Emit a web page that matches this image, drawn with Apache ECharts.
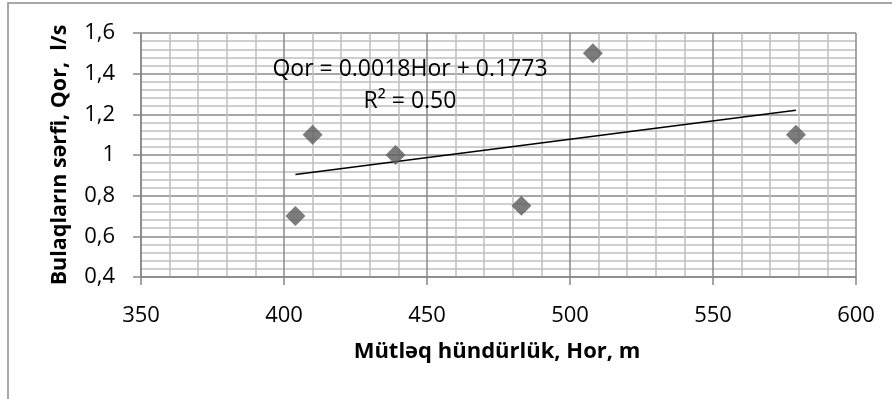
<!DOCTYPE html>
<html>
<head>
<meta charset="utf-8">
<script src="https://cdn.jsdelivr.net/npm/echarts@6/dist/echarts.min.js"></script>
<style>html,body{margin:0;padding:0;background:#fff}#c{width:892px;height:399px}</style>
</head>
<body>
<div id="c"></div>
<script>
var altitude = [404, 410, 439, 483, 508, 579];
var discharge = [0.7, 1.1, 1.0, 0.75, 1.5, 1.1];
var trendSlope = 0.0018;
var trendIntercept = 0.1773;
var yTickLabels = ['0,4', '0,6', '0,8', '1', '1,2', '1,4', '1,6'];
var xTickLabels = ['350', '400', '450', '500', '550', '600'];
var equationText = 'Qor = 0.0018Hor + 0.1773';
var r2Text = 'R\u00b2 = 0.50';
var xTitle = 'Mütləq hündürlük, Hor, m';
var yTitle = 'Bulaqların sərfi, Qor,  l/s';

var pts = altitude.map(function (x, i) { return [x, discharge[i]]; });
var xMin = Math.min.apply(null, altitude), xMax = Math.max.apply(null, altitude);
var trend = [[xMin, trendSlope * xMin + trendIntercept], [xMax, trendSlope * xMax + trendIntercept]];

var chart = echarts.init(document.getElementById('c'), null, {renderer: 'canvas'});
var FONT = 'Open Sans';
chart.setOption({
  animation: false,
  backgroundColor: '#fff',
  grid: {left: 141, right: 36, top: 33, bottom: 122},
  xAxis: {
    type: 'value', min: 350, max: 600, interval: 50,
    axisLine: {show: true, lineStyle: {color: '#868686', width: 1.5}},
    axisTick: {show: true, length: 8, lineStyle: {color: '#868686', width: 1.5}},
    axisLabel: {margin: 28, color: '#000', fontFamily: FONT, fontSize: 22,
      formatter: function (v) { return xTickLabels[Math.round((v - 350) / 50)]; }},
    splitLine: {show: true, lineStyle: {color: '#8a8a8a', width: 1.5}},
    minorTick: {show: false, splitNumber: 5},
    minorSplitLine: {show: true, lineStyle: {color: '#c0c0c0', width: 1.5}}
  },
  yAxis: {
    type: 'value', min: 0.4, max: 1.6, interval: 0.2,
    axisLine: {show: true, lineStyle: {color: '#868686', width: 1.5}},
    axisTick: {show: true, length: 8, lineStyle: {color: '#868686', width: 1.5}},
    axisLabel: {margin: 26, color: '#000', fontFamily: FONT, fontSize: 22,
      formatter: function (v) { return yTickLabels[Math.round((v - 0.4) / 0.2)]; }},
    splitLine: {show: true, lineStyle: {color: '#8a8a8a', width: 1.5}},
    minorTick: {show: false, splitNumber: 5},
    minorSplitLine: {show: true, lineStyle: {color: '#c0c0c0', width: 1.5}}
  },
  series: [
    {type: 'line', data: trend, showSymbol: false, symbol: 'none',
     lineStyle: {color: '#000', width: 1.5}, z: 3, silent: true},
    {type: 'scatter', data: pts, symbol: 'diamond', symbolSize: 20,
     itemStyle: {color: '#5b5b5b'}, z: 4}
  ],
  graphic: [
    {type: 'rect', shape: {x: 8, y: 3, width: 1000, height: 1000}, silent: true,
     style: {fill: 'none', stroke: '#8c8c8c', lineWidth: 1.5}, z: -10},
    {type: 'text', x: 410, y: 69, style: {text: equationText, font: '23px "Open Sans"', fill: '#000', align: 'center', verticalAlign: 'middle'}, z: 10},
    {type: 'text', x: 410, y: 101, style: {text: r2Text, font: '23px "Open Sans"', fill: '#000', align: 'center', verticalAlign: 'middle'}, z: 10},
    {type: 'text', x: 497, y: 352, style: {text: xTitle, font: 'bold 22px "Open Sans"', fill: '#000', align: 'center', verticalAlign: 'middle'}},
    {type: 'text', x: 60, y: 155, rotation: Math.PI / 2, style: {text: yTitle, font: 'bold 21.5px "Open Sans"', fill: '#000', align: 'center', verticalAlign: 'middle'}}
  ]
});
</script>
</body>
</html>
